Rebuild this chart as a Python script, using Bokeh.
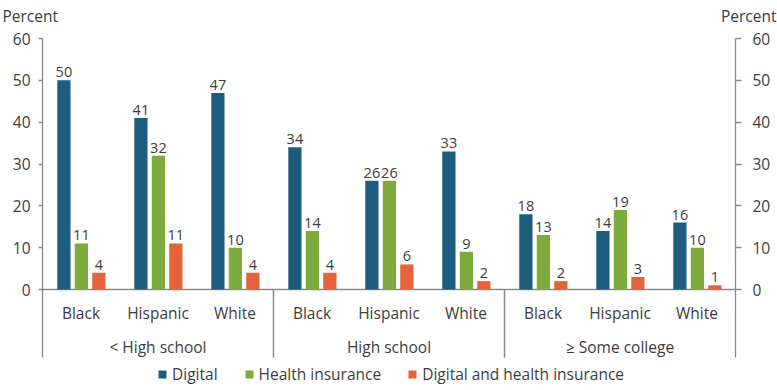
from bokeh.plotting import figure
from bokeh.models import (FactorRange, ColumnDataSource, LinearAxis, FixedTicker,
                          Legend, LegendItem, Label, Range1d)
from bokeh.transform import dodge
from bokeh.embed import file_html
from bokeh.resources import INLINE

# ---------------- data ----------------
groups = ["< High school", "High school", "≥ Some college"]
races = ["Black", "Hispanic", "White"]
digital = [50, 41, 47, 34, 26, 33, 18, 14, 16]
health = [11, 32, 10, 14, 26, 9, 13, 19, 10]
both = [4, 11, 4, 4, 6, 2, 2, 3, 1]
series_names = ["Digital", "Health insurance", "Digital and health insurance"]
colors = ["#1d5c7c", "#7eab3e", "#e4633a"]
y_ticks = [0, 10, 20, 30, 40, 50, 60]
y_label = "Percent"

# ---------------- layout constants ----------------
W, H = 777, 390
SIDE_PAD = 42           # px from canvas edge to the outer axes
PX_PER_UNIT = 4.183     # vertical scale
ZERO_Y = 289            # canvas y of value 0
Y_TOP = 60
Y_AXIS_LOW = -16.3      # axes / separators extend below baseline to this value

FONT = "Open Sans"
TXT = "#3d3d3d"
AX = "#8a8a8a"
FS = "15.5px"
FS_VAL = "14.5px"

factors = [(g, r) for g in groups for r in races]
n = len(factors)
src = ColumnDataSource(dict(
    x=factors,
    digital=digital, health=health, both=both,
    digital_t=[str(v) for v in digital],
    health_t=[str(v) for v in health],
    both_t=[str(v) for v in both],
))

inner = W - 2 * SIDE_PAD
x_range = FactorRange(*factors, factor_padding=0, group_padding=0,
                      range_padding=2 * SIDE_PAD / inner, range_padding_units="percent")
y_range = Range1d(-(H - ZERO_Y) / PX_PER_UNIT, ZERO_Y / PX_PER_UNIT)

p = figure(
    x_range=x_range, y_range=y_range,
    frame_width=W, frame_height=H,
    min_border=0, min_border_left=0, min_border_right=0,
    min_border_top=0, min_border_bottom=0,
    output_backend="svg", toolbar_location=None,
)
p.outline_line_color = None
p.grid.grid_line_color = None
p.xaxis.visible = False
p.background_fill_color = "white"
p.border_fill_color = "white"


def style_y(ax, tick_out, standoff):
    ax.ticker = FixedTicker(ticks=y_ticks)
    ax.bounds = (Y_AXIS_LOW, Y_TOP)
    ax.axis_line_color = AX
    ax.axis_line_width = 1.3
    ax.major_tick_line_color = AX
    ax.major_tick_line_width = 1.3
    ax.major_tick_in = 0
    ax.major_tick_out = tick_out
    ax.minor_tick_line_color = None
    ax.major_label_standoff = standoff
    ax.major_label_text_font = FONT
    ax.major_label_text_font_size = FS
    ax.major_label_text_color = TXT


ya = p.yaxis[0]
ya.fixed_location = 0
style_y(ya, 4, 8)

ra = LinearAxis(fixed_location=n)
style_y(ra, 6, 11)
p.add_layout(ra, "right")

# baseline
p.segment(x0=[(factors[0][0], factors[0][1], -0.5)], x1=[(factors[-1][0], factors[-1][1], 0.5)],
          y0=[0], y1=[0], line_color=AX, line_width=1.3)

# group separators below the baseline
sep_x = [(groups[i], races[-1], 0.5) for i in range(len(groups) - 1)]
p.segment(x0=sep_x, x1=sep_x, y0=[0] * len(sep_x), y1=[Y_AXIS_LOW] * len(sep_x),
          line_color=AX, line_width=1.5)

# category labels
p.text(x=factors, y=[0] * n, text=[r for _, r in factors], y_offset=23,
       text_align="center", text_baseline="middle",
       text_font={"value": FONT}, text_font_size=FS, text_color=TXT)
p.text(x=groups, y=[0] * len(groups), text=groups, y_offset=57,
       text_align="center", text_baseline="middle",
       text_font={"value": FONT}, text_font_size=FS, text_color=TXT)

offsets = [-0.222, 0.005, 0.232]
cols = ["digital", "health", "both"]
items = []
for col, name, color, off in zip(cols, series_names, colors, offsets):
    r = p.vbar(x=dodge("x", off, range=p.x_range), top=col, bottom=0, width=0.172,
               source=src, fill_color=color, line_color=None)
    p.text(x=dodge("x", off, range=p.x_range), y=col, text=col + "_t", source=src,
           text_align="center", text_baseline="bottom", y_offset=-3,
           text_font={"value": FONT}, text_font_size=FS_VAL, text_color=TXT)
    items.append(LegendItem(label=name, renderers=[r]))

legend = Legend(items=items, orientation="horizontal", location=(157, 5),
                glyph_width=10, glyph_height=10, label_standoff=5, spacing=26,
                padding=0, margin=0, border_line_color=None, background_fill_alpha=0,
                label_text_font=FONT, label_text_font_size=FS, label_text_color=TXT,
                label_height=20)
p.add_layout(legend, "center")

p.add_layout(Label(x=2, y=H - 15, x_units="screen", y_units="screen", text=y_label,
                   text_baseline="middle", text_align="left",
                   text_font=FONT, text_font_size=FS, text_color=TXT))
p.add_layout(Label(x=W - 1, y=H - 15, x_units="screen", y_units="screen", text=y_label,
                   text_baseline="middle", text_align="right",
                   text_font=FONT, text_font_size=FS, text_color=TXT))

open("out.html", "w").write(file_html(p, INLINE))
